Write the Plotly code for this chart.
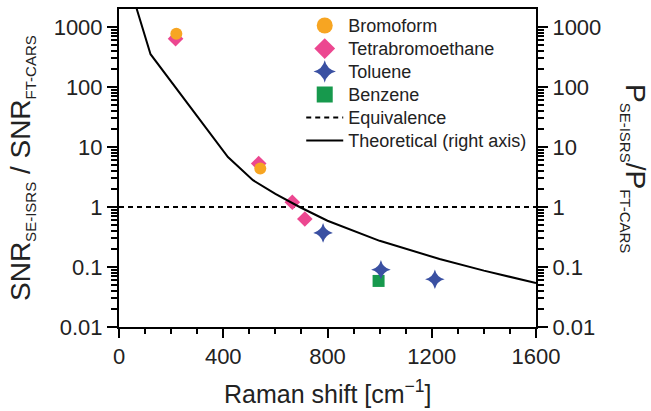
import plotly.graph_objects as go

# ---- data ----
bromo_x = [220, 542]
bromo_y = [774, 4.4]
tetra_x = [217, 536, 665, 713]
tetra_y = [640, 5.3, 1.2, 0.63]
tol_x = [783, 1005, 1212]
tol_y = [0.37, 0.09, 0.0625]
benz_x = [996]
benz_y = [0.0586]
equiv_x = [0, 1600]
equiv_y = [1, 1]
theo_x = [60, 121, 418, 514, 600, 693, 800, 1000, 1230, 1400, 1600]
theo_y = [2600, 352, 6.8, 2.8, 1.65, 1.0, 0.59, 0.273, 0.136, 0.087, 0.054]

ytick_vals = [0.01, 0.1, 1, 10, 100, 1000]
ytick_text = ["0.01", "0.1", "1", "10", "100", "1000"]
xtick_vals = [0, 400, 800, 1200, 1600]

C_OR = "#F7A522"
C_PK = "#EC4790"
C_BL = "#3A50A2"
C_GR = "#17994D"
FONT = "Liberation Sans, Arial, sans-serif"
TXT = "#222222"


def lg(name):
    return "<span style='font-size:18px'>" + name + "</span>"


fig = go.Figure()

# plotted marks (no legend)
fig.add_trace(go.Scatter(x=equiv_x, y=equiv_y, mode="lines",
                         line=dict(color="black", width=2, dash="5px,4px"), showlegend=False))
fig.add_trace(go.Scatter(x=theo_x, y=theo_y, mode="lines", yaxis="y2",
                         line=dict(color="black", width=2), showlegend=False))
fig.add_trace(go.Scatter(x=tetra_x, y=tetra_y, mode="markers",
                         marker=dict(symbol="diamond", size=12, color=C_PK), showlegend=False))
fig.add_trace(go.Scatter(x=bromo_x, y=bromo_y, mode="markers",
                         marker=dict(symbol="circle", size=12, color=C_OR), showlegend=False))
fig.add_trace(go.Scatter(x=benz_x, y=benz_y, mode="markers",
                         marker=dict(symbol="square", size=12, color=C_GR), showlegend=False))
fig.add_trace(go.Scatter(x=tol_x, y=tol_y, mode="markers",
                         marker=dict(symbol="star-diamond", size=14, color=C_BL), showlegend=False))

# legend entries
fig.add_trace(go.Scatter(x=[None], y=[None], mode="markers", name=lg("Bromoform"),
                         marker=dict(symbol="circle", size=16, color=C_OR)))
fig.add_trace(go.Scatter(x=[None], y=[None], mode="markers", name=lg("Tetrabromoethane"),
                         marker=dict(symbol="diamond", size=16, color=C_PK)))
fig.add_trace(go.Scatter(x=[None], y=[None], mode="markers", name=lg("Toluene"),
                         marker=dict(symbol="star-diamond", size=16, color=C_BL)))
fig.add_trace(go.Scatter(x=[None], y=[None], mode="markers", name=lg("Benzene"),
                         marker=dict(symbol="square", size=16, color=C_GR)))
fig.add_trace(go.Scatter(x=[None], y=[None], mode="lines", name=lg("Equivalence"),
                         line=dict(color="black", width=2, dash="5px,4px")))
fig.add_trace(go.Scatter(x=[None], y=[None], mode="lines", name=lg("Theoretical (right axis)"),
                         line=dict(color="black", width=2)))

yax_common = dict(
    type="log", range=[-2, 3.3], tickmode="array", tickvals=ytick_vals, ticktext=ytick_text,
    ticks="outside", ticklen=10, tickwidth=2, tickcolor="black",
    showline=True, linecolor="black", linewidth=2, showgrid=False, zeroline=False,
    minor=dict(ticks="outside", ticklen=6, tickwidth=1.5, tickcolor="black", dtick="D1", showgrid=False),
    tickfont=dict(family=FONT, size=22, color=TXT),
)

fig.update_layout(
    width=651, height=411,
    margin=dict(l=119, r=115, t=7, b=84),
    paper_bgcolor="white", plot_bgcolor="white",
    font=dict(family=FONT, color=TXT),
    xaxis=dict(range=[0, 1600], tickvals=xtick_vals, ticks="outside", ticklen=9, tickwidth=2,
               tickcolor="black", showline=True, linecolor="black", linewidth=2, mirror=True,
               showgrid=False, zeroline=False,
               minor=dict(ticks="outside", ticklen=5, tickwidth=1.5, tickcolor="black", dtick=100, showgrid=False),
               tickfont=dict(family=FONT, size=22, color=TXT)),
    yaxis=dict(**yax_common, side="left"),
    yaxis2=dict(**yax_common, side="right", overlaying="y"),
    legend=dict(x=0.437, y=1.0, xanchor="left", yanchor="top", bgcolor="rgba(0,0,0,0)",
                font=dict(family=FONT, size=15.4, color=TXT), tracegroupgap=0, itemwidth=37),
    annotations=[
        dict(text="Raman shift [cm<sup>−1</sup>]", xref="paper", yref="paper", x=0.5, y=0,
             xanchor="center", yanchor="top", yshift=-47, showarrow=False,
             font=dict(family=FONT, size=25, color=TXT)),
        dict(text="SNR<sub><span style='font-size:15px'>SE-ISRS</span></sub> / SNR<sub><span style='font-size:15px'>FT-CARS</span></sub>",
             xref="paper", yref="paper", x=0, y=0.5, xanchor="center", yanchor="middle",
             xshift=-97, textangle=-90, showarrow=False,
             font=dict(family=FONT, size=28, color=TXT)),
        dict(text="P<sub><span style='font-size:15px'>SE-ISRS</span></sub>/P<sub><span style='font-size:15px'>FT-CARS</span></sub>",
             xref="paper", yref="paper", x=1, y=0.5, xanchor="center", yanchor="middle",
             xshift=98, textangle=90, showarrow=False,
             font=dict(family=FONT, size=28, color=TXT)),
    ],
)

fig.write_html("out.html")
